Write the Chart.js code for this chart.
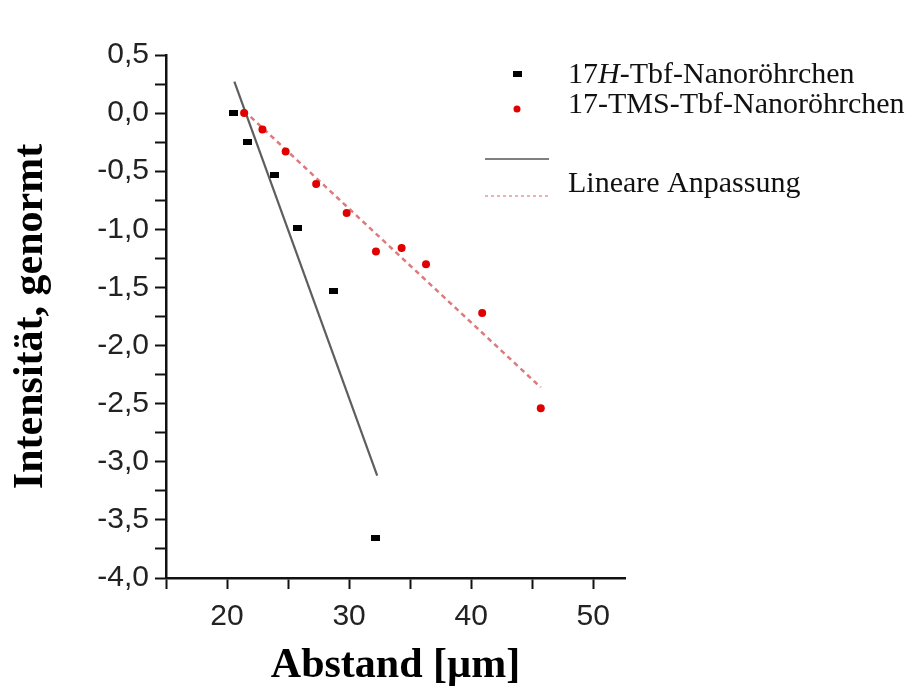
<!DOCTYPE html>
<html lang="de">
<head>
<meta charset="utf-8">
<title>Intensität gegen Abstand</title>
<script src="https://cdn.jsdelivr.net/npm/chart.js@4.4.1/dist/chart.umd.min.js"></script>
<style>
  html, body { margin: 0; padding: 0; background: #fff; }
  #wrap { position: relative; width: 916px; height: 693px; }
</style>
</head>
<body>
<div id="wrap"><canvas id="chart" width="916" height="693"></canvas></div>
<script>
// Messpunkte: Abstand [µm] gegen normierte Intensität
var hAbstand = [20.5, 21.7, 23.9, 25.8, 28.7, 32.2];
var hIntensitaet = [0.0, -0.25, -0.53, -0.99, -1.53, -3.66];

var tmsAbstand = [21.4, 22.9, 24.8, 27.3, 29.8, 32.2, 34.3, 36.3, 40.9, 45.7];
var tmsIntensitaet = [0.0, -0.14, -0.33, -0.61, -0.86, -1.19, -1.16, -1.30, -1.72, -2.54];

// Endpunkte der beiden linearen Anpassungen
var hFitAbstand = [20.6, 32.3];
var hFitIntensitaet = [0.27, -3.12];
var tmsFitAbstand = [21.4, 45.7];
var tmsFitIntensitaet = [0.02, -2.36];

// Achsenteilung
var xMajor = [20, 30, 40, 50];
var xMinor = [15, 25, 35, 45];
var xTickLabels = ["20", "30", "40", "50"];
var yMajor = [0.5, 0, -0.5, -1, -1.5, -2, -2.5, -3, -3.5, -4];
var yMinor = [0.25, -0.25, -0.75, -1.25, -1.75, -2.25, -2.75, -3.25, -3.75];
var yTickLabels = ["0,5", "0,0", "-0,5", "-1,0", "-1,5", "-2,0", "-2,5", "-3,0", "-3,5", "-4,0"];

var legendLabels = ["17", "H", "-Tbf-Nanoröhrchen", "17-TMS-Tbf-Nanoröhrchen", "Lineare Anpassung"];

function toPoints(xs, ys) {
  return xs.map(function (x, i) {
    return { x: x, y: ys[i] };
  });
}

function buildTicks(major, minor) {
  return major.concat(minor)
    .sort(function (a, b) { return a - b; })
    .map(function (v) { return { value: v }; });
}

function tickLabel(major, labels) {
  return function (value) {
    for (var i = 0; i < major.length; i++) {
      if (Math.abs(major[i] - value) < 1e-9) return labels[i];
    }
    return "";
  };
}

// kleines schwarzes Rechteck als Punktsymbol
function rectMarker(w, h, color) {
  var c = document.createElement("canvas");
  c.width = w;
  c.height = h;
  var g = c.getContext("2d");
  g.fillStyle = color;
  g.fillRect(0, 0, w, h);
  return c;
}

var blackMarker = rectMarker(9, 6, "#000");
var RED = "#e00000";

var legendPlugin = {
  id: "sideLegend",
  afterDraw: function (chart) {
    var ctx = chart.ctx;
    var serif = '"Liberation Serif", "Times New Roman", serif';
    ctx.save();
    ctx.fillStyle = "#111";
    ctx.textBaseline = "alphabetic";
    ctx.textAlign = "left";

    // Zeile 1: 17H-Tbf-Nanoröhrchen (H kursiv)
    ctx.drawImage(blackMarker, 513, 71);
    var x = 568;
    ctx.font = "30px " + serif;
    ctx.fillText(legendLabels[0], x, 83);
    x += ctx.measureText(legendLabels[0]).width;
    ctx.font = "italic 30px " + serif;
    ctx.fillText(legendLabels[1], x, 83);
    x += ctx.measureText(legendLabels[1]).width;
    ctx.font = "30px " + serif;
    ctx.fillText(legendLabels[2], x, 83);

    // Zeile 2
    ctx.fillStyle = RED;
    ctx.beginPath();
    ctx.arc(517, 109, 3.5, 0, Math.PI * 2);
    ctx.fill();
    ctx.fillStyle = "#111";
    ctx.fillText(legendLabels[3], 568, 113);

    // Anpassungslinien
    ctx.strokeStyle = "#808080";
    ctx.lineWidth = 2;
    ctx.beginPath();
    ctx.moveTo(485, 159);
    ctx.lineTo(549, 159);
    ctx.stroke();

    ctx.strokeStyle = "#e29a9a";
    ctx.lineWidth = 1.5;
    ctx.setLineDash([3, 3]);
    ctx.beginPath();
    ctx.moveTo(485, 196);
    ctx.lineTo(549, 196);
    ctx.stroke();
    ctx.setLineDash([]);

    ctx.fillText(legendLabels[4], 568, 192);
    ctx.restore();
  }
};

var tickFont = { family: '"Liberation Sans", Arial, sans-serif', size: 30 };
var titleFont = { family: '"Liberation Serif", "Times New Roman", serif', size: 42, weight: "bold" };

new Chart(document.getElementById("chart"), {
  type: "scatter",
  data: {
    datasets: [
      {
        label: "17H-Tbf-Nanoröhrchen",
        data: toPoints(hAbstand, hIntensitaet),
        pointStyle: blackMarker,
        showLine: false
      },
      {
        label: "17-TMS-Tbf-Nanoröhrchen",
        data: toPoints(tmsAbstand, tmsIntensitaet),
        pointStyle: "circle",
        pointRadius: 4,
        backgroundColor: RED,
        borderWidth: 0,
        showLine: false
      },
      {
        label: "Lineare Anpassung (17H)",
        data: toPoints(hFitAbstand, hFitIntensitaet),
        showLine: true,
        pointRadius: 0,
        borderColor: "#5e5e5e",
        borderWidth: 2.2
      },
      {
        label: "Lineare Anpassung (17-TMS)",
        data: toPoints(tmsFitAbstand, tmsFitIntensitaet),
        showLine: true,
        pointRadius: 0,
        borderColor: "#dc7a7c",
        borderWidth: 2.5,
        borderDash: [5, 4]
      }
    ]
  },
  options: {
    responsive: false,
    animation: false,
    layout: { padding: { left: 0, top: 55, right: 291, bottom: 0 } },
    plugins: {
      legend: { display: false },
      tooltip: { enabled: false }
    },
    scales: {
      x: {
        type: "linear",
        min: 15,
        max: 52.6,
        afterBuildTicks: function (scale) {
          scale.ticks = buildTicks(xMajor, xMinor);
        },
        afterFit: function (scale) {
          scale.height = 115;
        },
        ticks: {
          autoSkip: false,
          maxRotation: 0,
          includeBounds: false,
          padding: 10,
          color: "#222",
          font: tickFont,
          callback: tickLabel(xMajor, xTickLabels)
        },
        grid: {
          drawOnChartArea: false,
          drawTicks: true,
          tickLength: 11,
          tickColor: "#111",
          tickWidth: 2
        },
        border: { display: true, color: "#111", width: 2.5 },
        title: {
          display: true,
          text: "Abstand [µm]",
          color: "#000",
          font: titleFont,
          padding: { top: 0, bottom: 2 }
        }
      },
      y: {
        type: "linear",
        min: -4,
        max: 0.5,
        afterBuildTicks: function (scale) {
          scale.ticks = buildTicks(yMajor, yMinor);
        },
        afterFit: function (scale) {
          scale.width = 166;
        },
        ticks: {
          autoSkip: false,
          padding: 6,
          color: "#222",
          font: tickFont,
          callback: tickLabel(yMajor, yTickLabels)
        },
        grid: {
          drawOnChartArea: false,
          drawTicks: true,
          tickLength: 11,
          tickColor: "#111",
          tickWidth: 2
        },
        border: { display: true, color: "#111", width: 2.5 },
        title: {
          display: true,
          text: "Intensität, genormt",
          color: "#000",
          font: titleFont,
          padding: { top: 6, bottom: 0 }
        }
      }
    }
  },
  plugins: [legendPlugin]
});
</script>
</body>
</html>
